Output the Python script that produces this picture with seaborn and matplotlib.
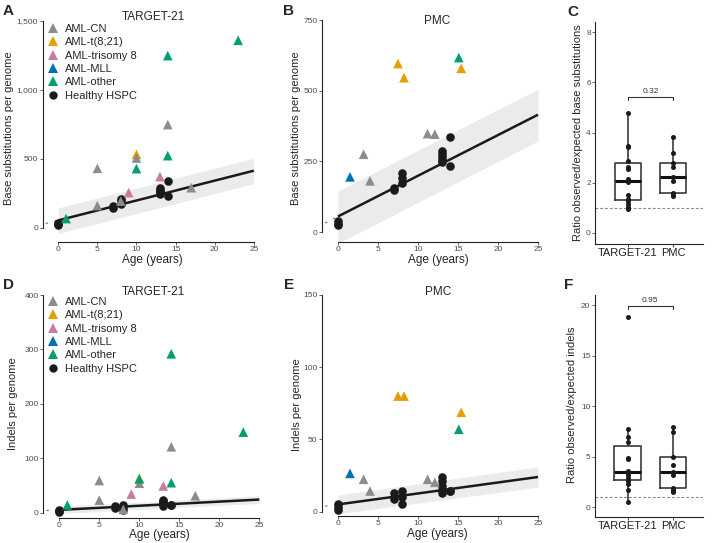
import pandas as pd
import seaborn as sns
import matplotlib.pyplot as plt
from matplotlib.lines import Line2D

# ---------------- Data ----------------
GROUPS = ['AML-CN', 'AML-t(8;21)', 'AML-trisomy 8', 'AML-MLL', 'AML-other']
GROUP_COLORS = ['#8c8c8c', '#e69f00', '#cc79a7', '#0072b2', '#009e73']
HSPC_LABEL = 'Healthy HSPC'

# TARGET-21 AML samples
target_age = [1, 5, 5, 8, 9, 10, 10, 10, 13, 14, 14, 14, 17, 23]
target_group = ['AML-other', 'AML-CN', 'AML-CN', 'AML-CN', 'AML-trisomy 8',
                'AML-t(8;21)', 'AML-CN', 'AML-other', 'AML-trisomy 8',
                'AML-CN', 'AML-other', 'AML-other', 'AML-CN', 'AML-other']
target_subs = [68, 432, 162, 195, 256, 534, 507, 430, 372, 749, 1249, 524, 292, 1360]
target_indels = [14, 59, 23, 6, 34, 63, 54, 62, 49, 121, 292, 55, 31, 148]

# PMC AML samples
pmc_age = [1.5, 3.2, 4.0, 7.5, 8.25, 11.2, 12.1, 15.1, 15.4]
pmc_group = ['AML-MLL', 'AML-CN', 'AML-CN', 'AML-t(8;21)', 'AML-t(8;21)',
             'AML-CN', 'AML-CN', 'AML-other', 'AML-t(8;21)']
pmc_subs = [195, 275, 181, 596, 546, 348, 346, 617, 579]
pmc_indels = [26.5, 22.4, 14.3, 80, 80, 22.4, 20.3, 57, 68.8]

# Healthy HSPC
hspc_age = [0, 0, 0, 7, 7, 8, 8, 8, 13, 13, 13, 13, 13, 14, 14]
hspc_subs = [38, 30, 24, 157, 148, 208, 192, 172, 288, 277, 266, 256, 248, 337, 234]
hspc_indels = [5, 3, 1, 13, 9, 14.5, 10.4, 5.3, 24, 21, 18, 15, 13, 14.5, 14]

# fitted line + prediction band (healthy HSPC)
fit_age = [0, 25]
subs_fit = [55, 415]
subs_lo = [-40, 322]
subs_hi = [145, 505]
indels_fit = [5, 24]
indels_lo = [-1.5, 17]
indels_hi = [11.5, 31]
ext_age = [-1.6, 0]
subs_ext = [32, 55]
indels_ext = [3.8, 5]

# observed / expected ratios
COHORTS = ['TARGET-21', 'PMC']
ratio_subs_target = [4.8, 3.47, 3.41, 2.86, 2.62, 2.55, 2.14, 2.02, 1.52, 1.36, 1.28, 1.17, 1.04, 0.96]
ratio_subs_pmc = [3.81, 3.17, 2.78, 2.62, 2.22, 2.09, 1.59, 1.52, 1.48]
ratio_indels_target = [18.8, 7.7, 6.9, 6.4, 4.9, 4.8, 3.6, 3.4, 3.2, 2.9, 2.6, 2.3, 1.7, 0.5]
ratio_indels_pmc = [7.97, 7.4, 5.0, 4.2, 3.45, 3.2, 1.9, 1.7, 1.45]
pval_subs = '0.32'
pval_indels = '0.95'

# ---------------- Style ----------------
W, H = 716, 543
sns.set_style('ticks')
plt.rcParams['font.family'] = ['Liberation Sans', 'DejaVu Sans']
palette = dict(zip(GROUPS, GROUP_COLORS))
TICK_COLOR = '#4d4d4d'
DARK = '#1a1a1a'

fig = plt.figure(figsize=(W / 100, H / 100), dpi=100)


def px_axes(left, top, right, bottom):
    return fig.add_axes([left / W, 1 - bottom / H, (right - left) / W, (bottom - top) / H])


def fig_xy(x, y):
    return x / W, 1 - y / H


def style_axes(ax, label_px, xlabel_size=8.5, ylabel_size=8):
    ax.spines[['top', 'right']].set_visible(False)
    for s in ['left', 'bottom']:
        ax.spines[s].set_linewidth(0.8)
        ax.spines[s].set_color('#222222')
    ax.tick_params(length=2, width=0.6, labelsize=6, colors=TICK_COLOR, pad=1.2)
    ax.set_xlabel(ax.get_xlabel(), fontsize=xlabel_size, va='center')
    ax.set_ylabel(ax.get_ylabel(), fontsize=ylabel_size, va='center')
    (yx, yy), (xx, xy) = label_px
    ax.yaxis.set_label_coords(*fig_xy(yx, yy), transform=fig.transFigure)
    ax.xaxis.set_label_coords(*fig_xy(xx, xy), transform=fig.transFigure)


def scatter_panel(ax, aml_age, aml_group, aml_val, h_val, fit, lo, hi, ext,
                  ylim, yticks, yticklabels, ylabel, title, title_px, label_px):
    ax.fill_between(fit_age, lo, hi, color='#ebebeb', lw=0, zorder=1)
    ax.plot(fit_age, fit, color=DARK, lw=1.8, zorder=2, solid_capstyle='butt')
    ax.plot(ext_age, ext, color='#666666', lw=0.8, ls=(0, (2, 6)), zorder=2)
    df_h = pd.DataFrame({'age': hspc_age, 'value': h_val})
    sns.scatterplot(data=df_h, x='age', y='value', color=DARK, marker='o',
                    s=38, linewidth=0, ax=ax, zorder=3)
    df_a = pd.DataFrame({'age': aml_age, 'value': aml_val, 'group': aml_group})
    sns.scatterplot(data=df_a, x='age', y='value', hue='group', palette=palette,
                    marker='^', s=48, linewidth=0, ax=ax, legend=False, zorder=4)
    ax.set_xlim(-2.0, 26.3)
    ax.set_ylim(*ylim)
    ax.set_xticks([0, 5, 10, 15, 20, 25])
    ax.set_yticks(yticks)
    ax.set_yticklabels(yticklabels)
    ax.spines['left'].set_bounds(yticks[0], yticks[-1])
    ax.spines['bottom'].set_bounds(0, 25)
    ax.set_xlabel('Age (years)')
    ax.set_ylabel(ylabel)
    style_axes(ax, label_px)
    fig.text(*fig_xy(*title_px), title, fontsize=8.5, ha='center', va='center')


def add_legend(ax, top_px):
    handles = [Line2D([], [], ls='', marker='^', markersize=6.5, color=c, markeredgewidth=0)
               for c in GROUP_COLORS]
    handles.append(Line2D([], [], ls='', marker='o', markersize=6, color=DARK, markeredgewidth=0))
    ax.legend(handles, GROUPS + [HSPC_LABEL], loc='upper left',
              bbox_to_anchor=fig_xy(47, top_px), bbox_transform=fig.transFigure,
              frameon=False, fontsize=8, handlelength=1.0, handletextpad=0.65,
              labelspacing=0.3, borderpad=0, borderaxespad=0)


def box_panel(ax, r_target, r_pmc, ylim, yticks, ylabel, pval, bracket_y, tick_h, label_px):
    df = pd.DataFrame({'cohort': ['TARGET-21'] * len(r_target) + ['PMC'] * len(r_pmc),
                       'ratio': r_target + r_pmc})
    ax.axhline(1, color='#8a8a8a', lw=0.8, ls=(0, (2.5, 1.8)), zorder=0)
    sns.boxplot(data=df, x='cohort', y='ratio', order=COHORTS, width=0.58, fill=False,
                color='#3a3a3a', linewidth=1.2, showfliers=False, whis=1.5,
                medianprops={'color': '#111111', 'linewidth': 2.2},
                capprops={'visible': False}, ax=ax)
    sns.stripplot(data=df, x='cohort', y='ratio', order=COHORTS, jitter=False,
                  color=DARK, size=3.6, linewidth=0, ax=ax, zorder=3)
    ax.plot([0, 0, 1, 1], [bracket_y - tick_h, bracket_y, bracket_y, bracket_y - tick_h],
            color='#333333', lw=0.8)
    ax.text(0.5, bracket_y + tick_h * 0.6, pval, ha='center', va='bottom',
            fontsize=6, color='#333333')
    ax.set_xlim(-0.72, 1.66)
    ax.set_ylim(*ylim)
    ax.set_yticks(yticks)
    ax.set_xlabel('')
    ax.set_ylabel(ylabel)
    style_axes(ax, label_px)
    ax.tick_params(axis='x', labelsize=8, colors='#222222', length=2)


# ---------------- Panels ----------------
ax_a = px_axes(42.6, 19.6, 264.0, 241.9)
scatter_panel(ax_a, target_age, target_group, target_subs, hspc_subs,
              subs_fit, subs_lo, subs_hi, subs_ext, (-101, 1510),
              [0, 500, 1000, 1500], ['0', '500', '1,000', '1,500'],
              'Base substitutions per genome', 'TARGET-21', (153, 17),
              ((9, 128), (152, 260)))
add_legend(ax_a, 24)

ax_b = px_axes(322.0, 18.6, 548.4, 241.9)
scatter_panel(ax_b, pmc_age, pmc_group, pmc_subs, hspc_subs,
              subs_fit, subs_lo, subs_hi, subs_ext, (-35, 755),
              [0, 250, 500, 750], ['0', '250', '500', '750'],
              'Base substitutions per genome', 'PMC', (437, 21),
              ((296, 128), (438, 260)))

ax_c = px_axes(595.2, 22.2, 703.0, 244.0)
box_panel(ax_c, ratio_subs_target, ratio_subs_pmc, (-0.44, 8.4), [0, 2, 4, 6, 8],
          'Ratio observed/expected base substitutions', pval_subs, 5.42, 0.13,
          ((578, 133), (650, 262)))

ax_d = px_axes(43.3, 294.0, 269.7, 517.5)
scatter_panel(ax_d, target_age, target_group, target_indels, hspc_indels,
              indels_fit, indels_lo, indels_hi, indels_ext, (-9, 402),
              [0, 100, 200, 300, 400], ['0', '100', '200', '300', '400'],
              'Indels per genome', 'TARGET-21', (153, 292),
              ((13, 404), (159, 535)))
add_legend(ax_d, 297)

ax_e = px_axes(322.0, 293.5, 548.4, 516.0)
scatter_panel(ax_e, pmc_age, pmc_group, pmc_indels, hspc_indels,
              indels_fit, indels_lo, indels_hi, indels_ext, (-3.0, 151),
              [0, 50, 100, 150], ['0', '50', '100', '150'],
              'Indels per genome', 'PMC', (438, 292),
              ((297, 405), (437, 534)))

ax_f = px_axes(594.8, 294.9, 703.0, 516.7)
box_panel(ax_f, ratio_indels_target, ratio_indels_pmc, (-0.96, 21), [0, 5, 10, 15, 20],
          'Ratio observed/expected indels', pval_indels, 19.9, 0.3,
          ((572, 405), (650, 535)))

# panel letters
for letter, (x, y) in zip('ABCDEF', [(8, 11), (289, 11), (573, 12),
                                      (8, 285), (289, 285), (569, 285)]):
    fig.text(*fig_xy(x, y), letter, fontsize=11, fontweight='bold', ha='center', va='center')

fig.savefig('out.png', dpi=100)
